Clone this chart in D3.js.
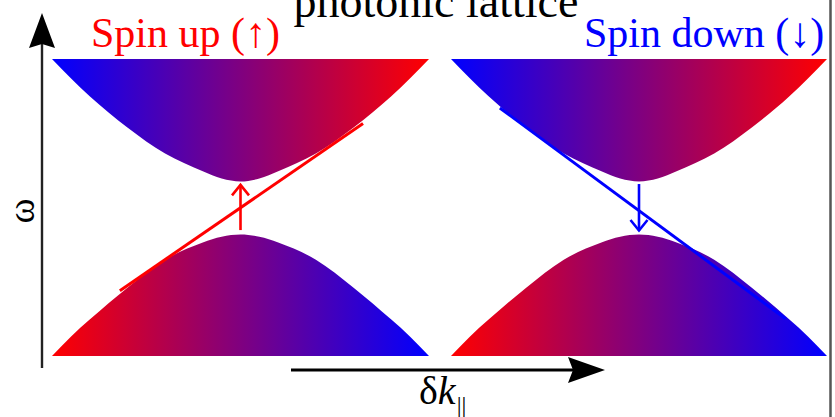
<!DOCTYPE html>
<html>
<head>
<meta charset="utf-8">
<script src="https://cdn.jsdelivr.net/npm/d3@7"></script>
<style>
  html, body { margin: 0; padding: 0; background: #fff; }
  svg { display: block; }
  text { font-family: "Liberation Serif", "Times New Roman", serif; }
</style>
</head>
<body>
<svg id="chart" width="835" height="417"></svg>
<script>
// Momentum grid (normalised δk‖) and band-edge frequencies (normalised ω)
const kGrid     = [-1, -0.9, -0.8, -0.6, -0.4, -0.2, -0.1, 0, 0.1, 0.2, 0.4, 0.6, 0.8, 0.9, 1];
const upperEdge = [1.0, 0.87, 0.749, 0.539, 0.363, 0.244, 0.195, 0.175, 0.195, 0.244, 0.363, 0.539, 0.749, 0.87, 1.0];
const lowerEdge = [-1.0, -0.87, -0.755, -0.54, -0.352, -0.235, -0.197, -0.182, -0.197, -0.235, -0.352, -0.54, -0.755, -0.87, -1.0];

// Edge-state dispersion lines (k, ω end points)
const upStateK   = [-0.64, 0.65];
const upStateW   = [-0.56, 0.565];
const downStateK = [-0.74, 0.78];
const downStateW = [0.67, -0.75];

// Spin-flip arrows at k = 0 (start ω, tip ω)
const upArrowW   = [-0.152, 0.152];
const downArrowW = [0.158, -0.155];

// Text labels
const titleText   = "photonic lattice";
const panelTitles = ["Spin up (\u2191)", "Spin down (\u2193)"];
const panelColors = ["#ff0000", "#0000ff"];
const yLabel = "\u03c9";

const svg = d3.select("#chart");
const defs = svg.append("defs");

const y = d3.scaleLinear().domain([-1, 1]).range([356, 59]);
const xPanels = [
  d3.scaleLinear().domain([-1, 1]).range([52, 429]),
  d3.scaleLinear().domain([-1, 1]).range([451, 827])
];

const upperPts = kGrid.map((k, i) => ({ k, w: upperEdge[i] }));
const lowerPts = kGrid.map((k, i) => ({ k, w: lowerEdge[i] }));

xPanels.forEach((x, p) => {
  // gradients spanning the band width: upper blue->red, lower red->blue
  const mk = (id, c0, c1) => {
    const g = defs.append("linearGradient").attr("id", id)
      .attr("gradientUnits", "userSpaceOnUse")
      .attr("x1", x(-1)).attr("x2", x(1)).attr("y1", 0).attr("y2", 0);
    g.append("stop").attr("offset", 0).attr("stop-color", c0);
    g.append("stop").attr("offset", 1).attr("stop-color", c1);
  };
  mk("gu" + p, "#0000ff", "#ff0000");
  mk("gl" + p, "#ff0000", "#0000ff");

  const upperArea = d3.area().curve(d3.curveMonotoneX)
    .x(d => x(d.k)).y0(y(1)).y1(d => y(d.w));
  const lowerArea = d3.area().curve(d3.curveMonotoneX)
    .x(d => x(d.k)).y0(y(-1)).y1(d => y(d.w));

  svg.append("path").datum(upperPts).attr("d", upperArea).attr("fill", `url(#gu${p})`);
  svg.append("path").datum(lowerPts).attr("d", lowerArea).attr("fill", `url(#gl${p})`);

  const color = panelColors[p];
  const sk = p === 0 ? upStateK : downStateK;
  const sw = p === 0 ? upStateW : downStateW;
  svg.append("line")
    .attr("x1", x(sk[0])).attr("y1", y(sw[0]))
    .attr("x2", x(sk[1])).attr("y2", y(sw[1]))
    .attr("stroke", color).attr("stroke-width", 3);

  // vertical spin-flip arrow with open head
  const aw = p === 0 ? upArrowW : downArrowW;
  const ax = x(0), y0 = y(aw[0]), y1 = y(aw[1]);
  const dir = Math.sign(y1 - y0);
  svg.append("line").attr("x1", ax).attr("y1", y0).attr("x2", ax).attr("y2", y1)
    .attr("stroke", color).attr("stroke-width", 2.6);
  svg.append("path")
    .attr("d", `M${ax - 8.5},${y1 - dir * 10.5}L${ax},${y1}L${ax + 8.5},${y1 - dir * 10.5}`)
    .attr("fill", "none").attr("stroke", color).attr("stroke-width", 2.6)
    .attr("stroke-linejoin", "miter");

  svg.append("text")
    .attr("x", p === 0 ? 91 : 584).attr("y", 47)
    .attr("font-size", 42).attr("fill", color)
    .text(panelTitles[p]);
});

// title
svg.append("text").attr("x", 436).attr("y", 17)
  .attr("text-anchor", "middle").attr("font-size", 46).attr("fill", "#000")
  .text(titleText);

// vertical ω axis
svg.append("line").attr("x1", 42).attr("y1", 368).attr("x2", 42).attr("y2", 40)
  .attr("stroke", "#222").attr("stroke-width", 2.4);
svg.append("path").attr("d", "M42,13L55,48L42,44L29,48Z").attr("fill", "#000");
svg.append("text")
  .attr("transform", "translate(34,211) rotate(-90)")
  .attr("text-anchor", "middle").attr("font-size", 38).attr("fill", "#000")
  .text(yLabel);

// horizontal δk‖ axis
svg.append("line").attr("x1", 291).attr("y1", 370).attr("x2", 575).attr("y2", 370)
  .attr("stroke", "#000").attr("stroke-width", 2.8);
svg.append("path").attr("d", "M605,370L568,357L573,370L568,383Z").attr("fill", "#000");
const xl = svg.append("text").attr("x", 419).attr("y", 404)
  .attr("font-size", 40).attr("fill", "#000");
xl.append("tspan").text("\u03b4");
xl.append("tspan").attr("font-style", "italic").text("k");
xl.append("tspan").attr("font-size", 24).attr("dy", 9).attr("dx", 1).text("||");

// right frame edge
svg.append("line").attr("x1", 830.5).attr("y1", 0).attr("x2", 830.5).attr("y2", 417)
  .attr("stroke", "#555").attr("stroke-width", 2.5);
</script>
</body>
</html>
